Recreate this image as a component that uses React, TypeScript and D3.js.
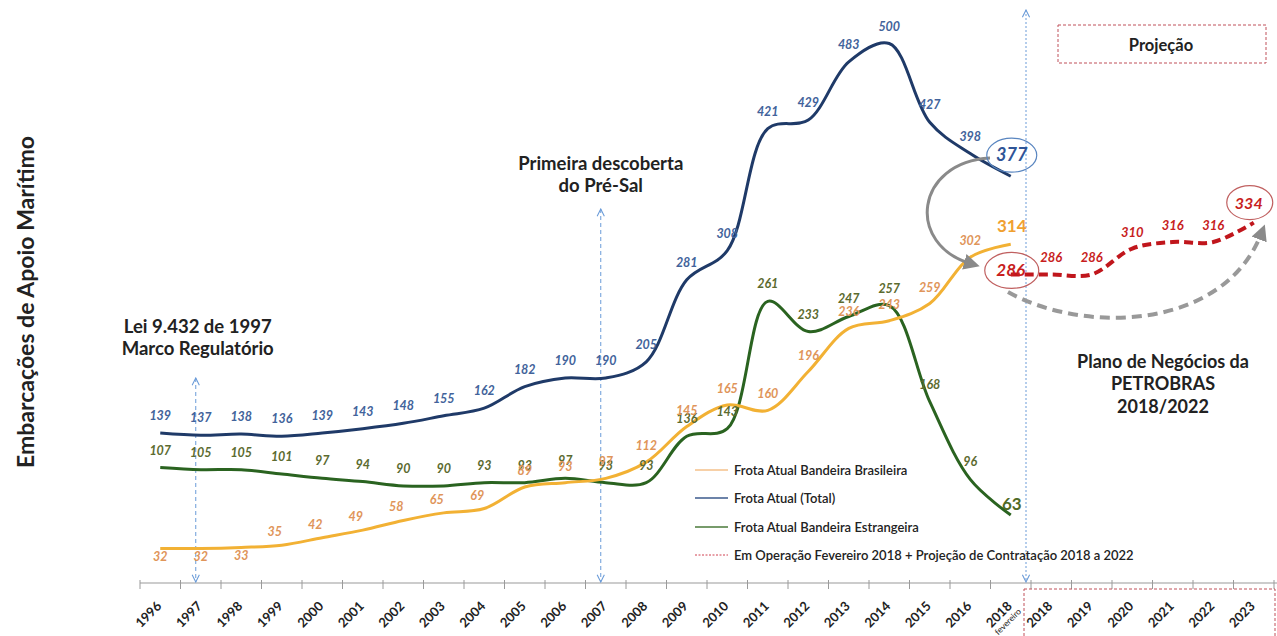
import React from "react";
import * as d3 from "d3";

// ---------- data ----------
const xLabels = [
  "1996", "1997", "1998", "1999", "2000", "2001", "2002", "2003", "2004", "2005",
  "2006", "2007", "2008", "2009", "2010", "2011", "2012", "2013", "2014", "2015",
  "2016", "2018", "2018", "2019", "2020", "2021", "2022", "2023",
];
const febIndex = 21; // "2018 fevereiro"
const febNote = "fevereiro";

const totalFleet = [139, 137, 138, 136, 139, 143, 148, 155, 162, 182, 190, 190, 205, 281, 308, 421, 429, 483, 500, 427, 398, 377];
const brazilFleet = [32, 32, 33, 35, 42, 49, 58, 65, 69, 89, 93, 97, 112, 145, 165, 160, 196, 236, 243, 259, 302, 314];
const foreignFleet = [107, 105, 105, 101, 97, 94, 90, 90, 93, 93, 97, 93, 93, 136, 143, 261, 233, 247, 257, 168, 96, 63];
const projection = [286, 286, 286, 310, 316, 316, 334]; // from 2018 fevereiro to 2023
const projStart = 21;

const legendItems = [
  "Frota Atual Bandeira Brasileira",
  "Frota Atual (Total)",
  "Frota Atual Bandeira Estrangeira",
  "Em Operação Fevereiro 2018 + Projeção de Contratação 2018 a 2022",
];

const FONT = "Lato, 'Open Sans', 'DejaVu Sans', sans-serif";

export default function App() {
  const W = 1277;
  const H = 636;
  const step = 40.5;
  const x = d3
    .scaleBand<number>()
    .domain(d3.range(xLabels.length))
    .range([140, 140 + step * xLabels.length])
    .padding(0);
  const cx = (i: number) => (x(i) as number) + x.bandwidth() / 2;
  const y = d3.scaleLinear().domain([0, 500]).range([583, 43.5]);
  const axisY = y(0);

  const curve = d3.curveCatmullRom.alpha(0.5);
  const histLine = d3
    .line<number>()
    .x((_, i) => cx(i))
    .y((d) => y(d))
    .curve(curve);
  const projLine = d3
    .line<number>()
    .x((_, i) => cx(i + projStart))
    .y((d) => y(d))
    .curve(curve);

  const cBlue = "#1f3a68";
  const cGreen = "#2a6320";
  const cOrange = "#f2b134";
  const cRed = "#c0161c";
  const lBlue = "#42639b";
  const lGreen = "#5c6b30";
  const lOrange = "#e0955a";
  const lRed = "#c81e1e";
  const arrowBlue = "#6a9bd8";

  const boundaryX = (x(22) as number) - 5;

  const labelStyle = {
    fontFamily: FONT,
    fontStyle: "italic" as const,
    fontWeight: 700,
    fontSize: 12.5,
  };

  const seriesLabels = (
    vals: number[],
    color: string,
    dyFn: (v: number, i: number) => number,
    dxFn: (i: number) => number = () => 0
  ) =>
    vals.map((v, i) =>
      i === febIndex ? null : (
        <text
          key={i}
          x={cx(i) + dxFn(i)}
          y={y(v) + dyFn(v, i)}
          textAnchor="middle"
          fill={color}
          style={labelStyle}
        >
          {v}
        </text>
      )
    );

  const ticks = d3.range(xLabels.length + 1).map((k) => 140 + step * k);
  const lastP = projection.length - 1;

  return (
    <svg
      width={W}
      height={H}
      viewBox={`0 0 ${W} ${H}`}
      style={{ position: "absolute", left: 0, top: 0, background: "#fff" }}
    >
      <defs>
        <marker id="chev" viewBox="0 0 10 10" refX="9" refY="5" markerWidth="9" markerHeight="9" orient="auto-start-reverse" markerUnits="userSpaceOnUse">
          <path d="M1,1 L9,5 L1,9" fill="none" stroke={arrowBlue} strokeWidth={1.2} />
        </marker>
        <marker id="grayTri" viewBox="0 0 10 10" refX="5" refY="5" markerWidth="16" markerHeight="16" orient="auto" markerUnits="userSpaceOnUse">
          <path d="M0,0 L10,5 L0,10 Z" fill="#8a8a8a" />
        </marker>
      </defs>
      <rect x={0} y={0} width={W} height={H} fill="#fff" />

      {/* y axis title */}
      <text
        transform={`translate(34,${302}) rotate(-90)`}
        textAnchor="middle"
        style={{ fontFamily: FONT, fontWeight: 700, fontSize: 23 }}
        fill="#222"
      >
        Embarcações de Apoio Marítimo
      </text>

      {/* x axis */}
      <line x1={ticks[0]} x2={W} y1={axisY} y2={axisY} stroke="#9a9a9a" strokeWidth={1.2} />
      {ticks.map((t, k) => (
        <line key={k} x1={t} x2={t} y1={axisY - 3} y2={axisY + 6} stroke="#9a9a9a" strokeWidth={1} />
      ))}
      {xLabels.map((lab, i) => (
        <g key={i}>
          <text
            transform={`translate(${cx(i) + 2},${axisY + 24}) rotate(-45)`}
            textAnchor="end"
            style={{ fontFamily: FONT, fontWeight: 700, fontSize: 13 }}
            fill="#222"
          >
            {lab}
          </text>
          {i === febIndex && (
            <text
              transform={`translate(${cx(i) + 11},${axisY + 29}) rotate(-45)`}
              textAnchor="end"
              style={{ fontFamily: FONT, fontSize: 8.5 }}
              fill="#222"
            >
              {febNote}
            </text>
          )}
        </g>
      ))}

      {/* projection box at bottom */}
      <rect
        x={boundaryX - 2}
        y={axisY + 6}
        width={W - boundaryX}
        height={60}
        fill="none"
        stroke="#c0505a"
        strokeWidth={1}
        strokeDasharray="3,2"
      />

      {/* vertical dashed arrows */}
      <line x1={cx(1) - 5} x2={cx(1) - 5} y1={378} y2={axisY - 1} stroke={arrowBlue} strokeWidth={1} strokeDasharray="4,3" markerStart="url(#chev)" markerEnd="url(#chev)" />
      <line x1={cx(11) - 5} x2={cx(11) - 5} y1={209} y2={axisY - 1} stroke={arrowBlue} strokeWidth={1} strokeDasharray="4,3" markerStart="url(#chev)" markerEnd="url(#chev)" />
      <line x1={boundaryX} x2={boundaryX} y1={10} y2={axisY - 1} stroke={arrowBlue} strokeWidth={1} strokeDasharray="2,2" markerStart="url(#chev)" markerEnd="url(#chev)" />

      {/* annotations */}
      <g style={{ fontFamily: FONT, fontWeight: 700, fontSize: 18.5 }} fill="#222" textAnchor="middle">
        <text x={cx(1) - 3} y={333}>Lei 9.432 de 1997</text>
        <text x={cx(1) - 3} y={355}>Marco Regulatório</text>
        <text x={cx(11) - 5} y={170}>Primeira descoberta</text>
        <text x={cx(11) - 5} y={192}>do Pré-Sal</text>
      </g>
      <g style={{ fontFamily: FONT, fontWeight: 700, fontSize: 18 }} fill="#222" textAnchor="middle">
        <text x={1163} y={368}>Plano de Negócios da</text>
        <text x={1163} y={390}>PETROBRAS</text>
        <text x={1163} y={413}>2018/2022</text>
      </g>
      <rect x={1058} y={25} width={208} height={38} fill="none" stroke="#c0505a" strokeWidth={1} strokeDasharray="3,2" />
      <text x={1161} y={51} textAnchor="middle" style={{ fontFamily: FONT, fontWeight: 700, fontSize: 16.5 }} fill="#222">
        Projeção
      </text>

      {/* series lines */}
      <path d={histLine(foreignFleet) || ""} fill="none" stroke={cGreen} strokeWidth={3} />
      <path d={histLine(brazilFleet) || ""} fill="none" stroke={cOrange} strokeWidth={3} />
      <path d={histLine(totalFleet) || ""} fill="none" stroke={cBlue} strokeWidth={3} />
      <path d={projLine(projection) || ""} fill="none" stroke={cRed} strokeWidth={4} strokeDasharray="9,5" />

      {/* gray arrows */}
      <path d="M 990,158 C 915,162 905,245 972,264" fill="none" stroke="#8a8a8a" strokeWidth={3} markerEnd="url(#grayTri)" />
      <path d="M 1008,292 C 1085,335 1225,330 1262,232" fill="none" stroke="#999" strokeWidth={4} strokeDasharray="10,6" markerEnd="url(#grayTri)" />

      {/* data labels */}
      {seriesLabels(totalFleet, lBlue, () => -13)}
      {seriesLabels(foreignFleet, lGreen, () => -13)}
      {seriesLabels(
        brazilFleet,
        lOrange,
        (v, i) => (v <= 33 ? 13 : i <= 8 ? -9 : -12),
        (i) => (i >= 3 && i <= 8 ? -7 : 0)
      )}
      {projection.map((v, i) =>
        i === 0 || i === lastP ? null : (
          <text
            key={i}
            x={cx(i + projStart)}
            y={y(v) - 12}
            textAnchor="middle"
            fill={lRed}
            style={{ ...labelStyle, fontSize: 13 }}
          >
            {v}
          </text>
        )
      )}

      {/* emphasized end labels */}
      <ellipse cx={cx(febIndex) + 1} cy={y(totalFleet[febIndex]) - 21} rx={25} ry={17} fill="none" stroke="#5a86c0" strokeWidth={1.2} />
      <text x={cx(febIndex) + 1} y={y(totalFleet[febIndex]) - 15} textAnchor="middle" fill="#2f5597" style={{ ...labelStyle, fontSize: 18 }}>
        {totalFleet[febIndex]}
      </text>
      <text x={cx(febIndex) + 1} y={y(brazilFleet[febIndex]) - 12} textAnchor="middle" fill="#f0a030" style={{ ...labelStyle, fontSize: 17, fontStyle: "normal" }}>
        {brazilFleet[febIndex]}
      </text>
      <text x={cx(febIndex) + 1} y={y(foreignFleet[febIndex]) - 5} textAnchor="middle" fill="#4f6a25" style={{ ...labelStyle, fontSize: 17, fontStyle: "normal" }}>
        {foreignFleet[febIndex]}
      </text>
      <ellipse cx={cx(projStart) + 1} cy={y(projection[0]) - 4} rx={27} ry={18} fill="none" stroke="#c06060" strokeWidth={1.2} />
      <text x={cx(projStart)} y={y(projection[0]) + 2} textAnchor="middle" fill={lRed} style={{ ...labelStyle, fontSize: 17 }}>
        {projection[0]}
      </text>
      <ellipse cx={cx(projStart + lastP) - 4} cy={y(projection[lastP]) - 20} rx={23} ry={17} fill="none" stroke="#c06060" strokeWidth={1.2} />
      <text x={cx(projStart + lastP) - 5} y={y(projection[lastP]) - 14} textAnchor="middle" fill={lRed} style={{ ...labelStyle, fontSize: 16 }}>
        {projection[lastP]}
      </text>

      {/* legend */}
      {legendItems.map((t, i) => {
        const ly = [470, 498, 527, 555][i];
        const stroke = ["#f5c08a", "#3b5a8c", "#4a7a3a", "#d04050"][i];
        return (
          <g key={i}>
            <line x1={695} x2={728} y1={ly} y2={ly} stroke={stroke} strokeWidth={i === 3 ? 1 : 1.5} strokeDasharray={i === 3 ? "2,1.5" : undefined} />
            <text x={734} y={ly + 4.5} style={{ fontFamily: FONT, fontWeight: 600, fontSize: 13 }} fill="#222">
              {t}
            </text>
          </g>
        );
      })}
    </svg>
  );
}
